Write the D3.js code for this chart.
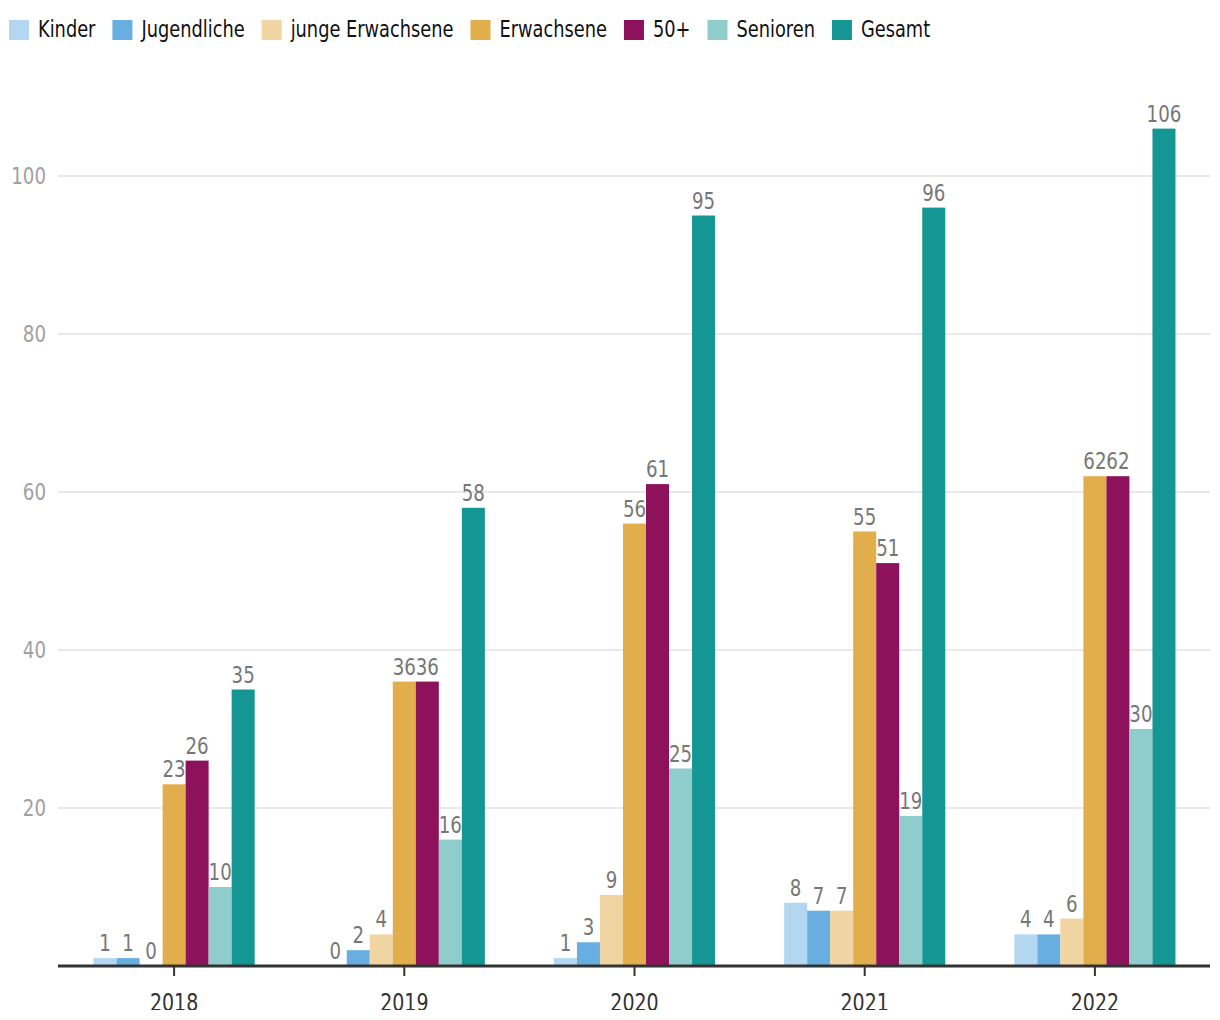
<!DOCTYPE html>
<html><head><meta charset="utf-8">
<script src="https://cdn.jsdelivr.net/npm/d3@7"></script>
<style>
body{margin:0;background:#fff;}
svg{display:block;overflow:hidden;font-family:"Liberation Sans Narrow","DejaVu Sans Condensed","Arial Narrow",sans-serif;}
</style></head><body>
<svg id="chart" width="1220" height="1010"></svg>
<script>
const years = ["2018","2019","2020","2021","2022"];
const seriesNames = ["Kinder","Jugendliche","junge Erwachsene","Erwachsene","50+","Senioren","Gesamt"];
const seriesColors = ["#b3d7f0","#68aee0","#f0d5a3","#e2ae4b","#8e125b","#8ecdcb","#149695"];
const kinder = [1,0,1,8,4];
const jugendliche = [1,2,3,7,4];
const jungeErwachsene = [0,4,9,7,6];
const erwachsene = [23,36,56,55,62];
const fuenfzigPlus = [26,36,61,51,62];
const senioren = [10,16,25,19,30];
const gesamt = [35,58,95,96,106];
const yTicks = [20,40,60,80,100];

const seriesValues = [kinder,jugendliche,jungeErwachsene,erwachsene,fuenfzigPlus,senioren,gesamt];

const svg = d3.select("#chart");
const mLeft = 59, mRight = 1210, mTop = 176, mBottom = 966;
const squeeze = 0.88; // condensed look
const legendSqueeze = 0.86;

const x0 = d3.scaleBand().domain(years).range([mLeft, mRight]).paddingInner(0.3).paddingOuter(0.15);
const x1 = d3.scaleBand().domain(seriesNames).range([0, x0.bandwidth()]);
const y = d3.scaleLinear().domain([0,100]).range([mBottom, mTop]);

// gridlines
svg.append("g").selectAll("line").data(yTicks).join("line")
  .attr("x1", 58).attr("x2", mRight)
  .attr("y1", d=>y(d)).attr("y2", d=>y(d))
  .attr("stroke","#e2e2e2").attr("stroke-width",1.5);

// y labels
svg.append("g").selectAll("g").data(yTicks).join("g")
  .attr("transform", d=>`translate(46,${y(d)+8}) scale(${squeeze},1)`)
  .append("text")
  .attr("text-anchor","end").attr("fill","#a0a0a0").attr("font-size",23)
  .text(d=>d);

// bars
const groups = svg.append("g").selectAll("g").data(years).join("g")
  .attr("transform", d=>`translate(${x0(d)},0)`);
groups.each(function(yr, yi){
  const g = d3.select(this);
  const items = seriesNames.map((s,si)=>({s, si, v: seriesValues[si][yi]}));
  g.selectAll("rect").data(items).join("rect")
    .attr("x", d=>x1(d.s)).attr("width", x1.bandwidth())
    .attr("y", d=>y(d.v)).attr("height", d=>mBottom - y(d.v))
    .attr("fill", d=>seriesColors[d.si]);
  g.selectAll("g.lbl").data(items).join("g").attr("class","lbl")
    .attr("transform", d=>`translate(${x1(d.s)+x1.bandwidth()/2},${y(d.v)-7}) scale(${squeeze},1)`)
    .append("text")
    .attr("text-anchor","middle").attr("fill","#777").attr("font-size",23)
    .text(d=>d.v);
});

// x axis
const xAxis = svg.append("g").attr("transform",`translate(0,${mBottom})`);
xAxis.append("line").attr("x1",58).attr("x2",mRight).attr("stroke","#333").attr("stroke-width",3);
xAxis.selectAll("line.tick").data(years).join("line").attr("class","tick")
  .attr("x1", d=>x0(d)+x0.bandwidth()/2).attr("x2", d=>x0(d)+x0.bandwidth()/2)
  .attr("y1",0).attr("y2",10).attr("stroke","#333").attr("stroke-width",2);
xAxis.selectAll("g.xl").data(years).join("g").attr("class","xl")
  .attr("transform", d=>`translate(${x0(d)+x0.bandwidth()/2},45) scale(${squeeze},1)`)
  .append("text")
  .attr("text-anchor","middle").attr("fill","#333").attr("font-size",24)
  .text(d=>d);

// legend
const legend = svg.append("g").attr("transform","translate(9,0)");
let lx = 0;
seriesNames.forEach((s,i)=>{
  const item = legend.append("g").attr("transform",`translate(${lx},0)`);
  item.append("rect").attr("x",0).attr("y",20).attr("width",20).attr("height",20).attr("fill",seriesColors[i]);
  const t = item.append("g").attr("transform",`translate(29,37) scale(${legendSqueeze},1)`)
    .append("text").attr("font-size",23).attr("fill","#111").text(s);
  lx += 29 + t.node().getComputedTextLength()*legendSqueeze + 17;
});
</script>
</body></html>
